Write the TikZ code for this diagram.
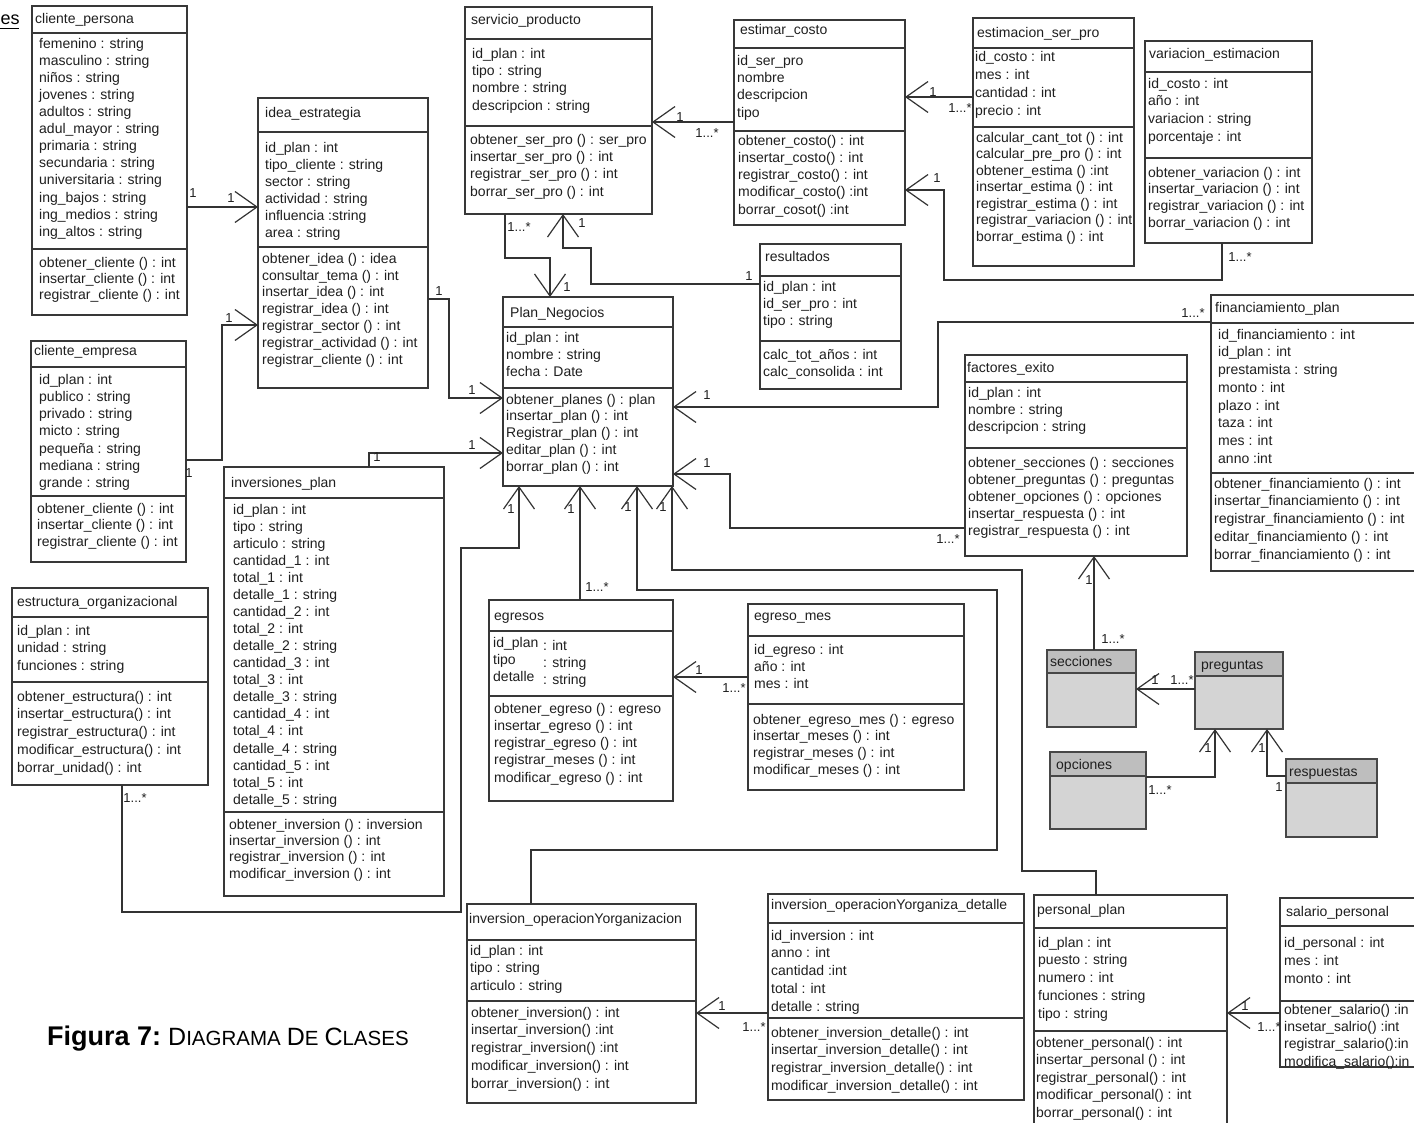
\documentclass[tikz,border=0pt]{standalone}
\usepackage{fontspec}
\setmainfont{Liberation Sans}
\usepackage{graphicx}
\usetikzlibrary{arrows.meta,fit}
\definecolor{gtitle}{RGB}{190,190,190}
\definecolor{gbody}{RGB}{212,212,212}
\tikzset{
  sepline/.style={draw=black!78, line width=1.2pt},
  boxs/.style={draw=black!78, line width=1.2pt, inner sep=0pt, outer sep=0pt, fill=white},
  gboxs/.style={draw=black!72, line width=1.6pt, inner sep=0pt, outer sep=0pt},
  txt/.style={inner sep=0pt, anchor=north west, align=left, text=black!88, font=\fontsize{14pt}{#1}\selectfont},
  txt/.default=17.2,
  lbl/.style={inner sep=0pt, text=black!88, font=\fontsize{13pt}{14pt}\selectfont},
  conn/.style={draw=black!80, line width=1.2pt},
  arr/.style={conn, -{Straight Barb[length=22pt,width=31pt,line width=1.2pt]}},
}
% name x1 y1 x2 y2 sep1 sep2
\newcommand\umlbox[7]{%
  \node[boxs, fit={(#2,#3) (#4,#5)}] (#1) {};
  \draw[sepline] (#2,#6) -- (#4,#6);
  \draw[sepline] (#2,#7) -- (#4,#7);
}
% name x1 y1 x2 y2 sep
\newcommand\grbox[6]{%
  \fill[gbody] (#2,#3) rectangle (#4,#5);
  \fill[gtitle] (#2,#3) rectangle (#4,#6);
  \node[gboxs, fit={(#2,#3) (#4,#5)}] (#1) {};
  \draw[gboxs] (#2,#6) -- (#4,#6);
}
% name x baseline spacing text
\newcommand\utext[5]{%
  \node[txt=#4] (#1) at (#2,#3-11) {\rule{0pt}{11pt}#5};
}
\newcommand\capbig[1]{{\fontsize{25pt}{25pt}\selectfont #1}}
\newcommand\capsmall[1]{{\fontsize{20.5pt}{20.5pt}\selectfont #1}}
\begin{document}
\begin{tikzpicture}[x=1pt,y=-1pt]
\useasboundingbox (0,0) rectangle (1414,1123);
\fill[white] (0,0) rectangle (1414,1123);
\clip (0,0) rectangle (1414,1123);

% ---------- classes ----------
\umlbox{cp}{32}{6}{187}{315}{33}{249}
\utext{cpT}{35}{23}{17}{cliente\_persona}
\utext{cpA}{39}{48}{17.1}{femenino : string\\masculino : string\\niños : string\\jovenes : string\\adultos : string\\adul\_mayor : string\\primaria : string\\secundaria : string\\universitaria : string\\ing\_bajos : string\\ing\_medios : string\\ing\_altos : string}
\utext{cpM}{39}{267}{16}{obtener\_cliente () : int\\insertar\_cliente () : int\\registrar\_cliente () : int}

\umlbox{idea}{258}{98}{428}{388}{132}{247}
\utext{ideaT}{265}{117}{17}{idea\_estrategia}
\utext{ideaA}{265}{152}{17}{id\_plan : int\\tipo\_cliente : string\\sector : string\\actividad : string\\influencia :string\\area : string}
\utext{ideaM}{262}{263}{16.8}{obtener\_idea () : idea\\consultar\_tema () : int\\insertar\_idea () : int\\registrar\_idea () : int\\registrar\_sector () : int\\registrar\_actividad () : int\\registrar\_cliente () : int}

\umlbox{ce}{31}{341}{186}{562}{367}{496}
\utext{ceT}{34}{355}{17}{cliente\_empresa}
\utext{ceA}{39}{384}{17.2}{id\_plan : int\\publico : string\\privado : string\\micto : string\\pequeña : string\\mediana : string\\grande : string}
\utext{ceM}{37}{513}{16.5}{obtener\_cliente () : int\\insertar\_cliente () : int\\registrar\_cliente () : int}

\umlbox{eo}{12}{588}{208}{785}{617}{682}
\utext{eoT}{17}{606}{17}{estructura\_organizacional}
\utext{eoA}{17}{635}{17.5}{id\_plan : int\\unidad : string\\funciones : string}
\utext{eoM}{17}{701}{17.7}{obtener\_estructura() : int\\insertar\_estructura() : int\\registrar\_estructura() : int\\modificar\_estructura() : int\\borrar\_unidad() : int}

\umlbox{ip}{224}{467}{444}{896}{498}{812}
\utext{ipT}{231}{487}{17}{inversiones\_plan}
\utext{ipA}{233}{514}{17.06}{id\_plan : int\\tipo : string\\articulo : string\\cantidad\_1 : int\\total\_1 : int\\detalle\_1 : string\\cantidad\_2 : int\\total\_2 : int\\detalle\_2 : string\\cantidad\_3 : int\\total\_3 : int\\detalle\_3 : string\\cantidad\_4 : int\\total\_4 : int\\detalle\_4 : string\\cantidad\_5 : int\\total\_5 : int\\detalle\_5 : string}
\utext{ipM}{229}{829}{16.3}{obtener\_inversion () : inversion\\insertar\_inversion () : int\\registrar\_inversion () : int\\modificar\_inversion () : int}

\umlbox{sp}{465}{7}{652}{214}{39}{126}
\utext{spT}{471}{24}{17}{servicio\_producto}
\utext{spA}{472}{58}{17.3}{id\_plan : int\\tipo : string\\nombre : string\\descripcion : string}
\utext{spM}{470}{144}{17.3}{obtener\_ser\_pro () : ser\_pro\\insertar\_ser\_pro () : int\\registrar\_ser\_pro () : int\\borrar\_ser\_pro () : int}

\umlbox{ec}{734}{20}{905}{225}{48}{131}
\utext{ecT}{740}{34}{17}{estimar\_costo}
\utext{ecA}{737}{65}{17.3}{id\_ser\_pro\\nombre\\descripcion\\tipo}
\utext{ecM}{738}{145}{17.25}{obtener\_costo() : int\\insertar\_costo() : int\\registrar\_costo() : int\\modificar\_costo() :int\\borrar\_cosot() :int}

\umlbox{es}{973}{18}{1134}{266}{48}{127}
\utext{esT}{977}{37}{17}{estimacion\_ser\_pro}
\utext{esA}{975}{61}{18}{id\_costo : int\\mes : int\\cantidad : int\\precio : int}
\utext{esM}{976}{142}{16.5}{calcular\_cant\_tot () : int\\calcular\_pre\_pro () : int\\obtener\_estima () :int\\insertar\_estima () : int\\registrar\_estima () : int\\registrar\_variacion () : int\\borrar\_estima () : int}

\umlbox{ve}{1145}{41}{1312}{243}{72}{158}
\utext{veT}{1149}{58}{17}{variacion\_estimacion}
\utext{veA}{1148}{88}{17.7}{id\_costo : int\\año : int\\variacion : string\\porcentaje : int}
\utext{veM}{1148}{177}{16.7}{obtener\_variacion () : int\\insertar\_variacion () : int\\registrar\_variacion () : int\\borrar\_variacion () : int}

\umlbox{re}{760}{244}{901}{389}{276}{341}
\utext{reT}{765}{261}{17}{resultados}
\utext{reA}{763}{291}{17}{id\_plan : int\\id\_ser\_pro : int\\tipo : string}
\utext{reM}{763}{359}{17}{calc\_tot\_años : int\\calc\_consolida : int}

\umlbox{pn}{503}{297}{673}{486}{327}{388}
\utext{pnT}{510}{317}{17}{Plan\_Negocios}
\utext{pnA}{506}{342}{17}{id\_plan : int\\nombre : string\\fecha : Date}
\utext{pnM}{506}{404}{16.75}{obtener\_planes () : plan\\insertar\_plan () : int\\Registrar\_plan () : int\\editar\_plan () : int\\borrar\_plan () : int}

\umlbox{fp}{1211}{295}{1430}{571}{323}{473}
\utext{fpT}{1215}{312}{17}{financiamiento\_plan}
\utext{fpA}{1218}{339}{17.7}{id\_financiamiento : int\\id\_plan : int\\prestamista : string\\monto : int\\plazo : int\\taza : int\\mes : int\\anno :int}
\utext{fpM}{1214}{488}{17.75}{obtener\_financiamiento () : int\\insertar\_financiamiento () : int\\registrar\_financiamiento () : int\\editar\_financiamiento () : int\\borrar\_financiamiento () : int}

\umlbox{fe}{965}{355}{1187}{556}{382}{448}
\utext{feT}{967}{372}{17}{factores\_exito}
\utext{feA}{968}{397}{17}{id\_plan : int\\nombre : string\\descripcion : string}
\utext{feM}{968}{467}{17}{obtener\_secciones () : secciones\\obtener\_preguntas () : preguntas\\obtener\_opciones () : opciones\\insertar\_respuesta () : int\\registrar\_respuesta () : int}

\umlbox{eg}{489}{600}{673}{801}{631}{696}
\utext{egT}{494}{620}{17}{egresos}
\utext{egA}{493}{647}{17}{id\_plan\\tipo\\detalle}
\utext{egB}{543}{650}{17}{: int\\: string\\: string}
\utext{egM}{494}{713}{17.25}{obtener\_egreso () : egreso\\insertar\_egreso () : int\\registrar\_egreso () : int\\registrar\_meses () : int\\modificar\_egreso () : int}

\umlbox{em}{748}{604}{964}{790}{636}{704}
\utext{emT}{754}{620}{17}{egreso\_mes}
\utext{emA}{754}{654}{17}{id\_egreso : int\\año : int\\mes : int}
\utext{emM}{753}{724}{16.7}{obtener\_egreso\_mes () : egreso\\insertar\_meses () : int\\registrar\_meses () : int\\modificar\_meses () : int}

\umlbox{io}{467}{904}{696}{1103}{940}{1001}
\utext{ioT}{469}{923}{17}{inversion\_operacionYorganizacion}
\utext{ioA}{470}{955}{17.5}{id\_plan : int\\tipo : string\\articulo : string}
\utext{ioM}{471}{1017}{17.75}{obtener\_inversion() : int\\insertar\_inversion() :int\\registrar\_inversion() :int\\modificar\_inversion() : int\\borrar\_inversion() : int}

\umlbox{idt}{768}{894}{1024}{1100}{923}{1018}
\utext{idtT}{771}{909}{17}{inversion\_operacionYorganiza\_detalle}
\utext{idtA}{771}{940}{17.75}{id\_inversion : int\\anno : int\\cantidad :int\\total : int\\detalle : string}
\utext{idtM}{771}{1037}{17.7}{obtener\_inversion\_detalle() : int\\insertar\_inversion\_detalle() : int\\registrar\_inversion\_detalle() : int\\modificar\_inversion\_detalle() : int}

\umlbox{pp}{1034}{895}{1227}{1135}{928}{1031}
\utext{ppT}{1037}{914}{17}{personal\_plan}
\utext{ppA}{1038}{947}{17.75}{id\_plan : int\\puesto : string\\numero : int\\funciones : string\\tipo : string}
\utext{ppM}{1036}{1047}{17.5}{obtener\_personal() : int\\insertar\_personal () : int\\registrar\_personal() : int\\modificar\_personal() : int\\borrar\_personal() : int}

\umlbox{sal}{1280}{898}{1430}{1067}{926}{1001}
\utext{salT}{1286}{916}{17}{salario\_personal}
\utext{salA}{1284}{947}{18}{id\_personal : int\\mes : int\\monto : int}
\utext{salM}{1284}{1014}{17.3}{obtener\_salario() :in\\insetar\_salrio() :int\\registrar\_salario():in\\modifica\_salario():in}

% gray classes
\grbox{se}{1047}{650}{1136}{727}{673}
\utext{seT}{1050}{666}{17}{secciones}
\grbox{pr}{1195}{652}{1283}{729}{676}
\utext{prT}{1201}{669}{17}{preguntas}
\grbox{op}{1050}{752}{1146}{829}{776}
\utext{opT}{1056}{769}{17}{opciones}
\grbox{rs}{1286}{759}{1377}{837}{783}
\utext{rsT}{1289}{776}{17}{respuestas}

% ---------- connectors ----------
\draw[arr] (cp.east |- 0,207) -- (idea.west |- 0,207);
\draw[arr] (ce.east |- 0,460) -| (222,325) -- (idea.west |- 0,325);
\draw[arr] (idea.east |- 0,299) -| (449,398) -- (pn.west |- 0,398);
\draw[arr] (ip.north -| 369,0) |- (pn.west |- 0,453);
\draw[arr] (sp.south -| 505,0) |- (550,258) -- (pn.north -| 550,0);
\draw[arr] (re.west |- 0,284) -| (591,248) -| (sp.south -| 563,0);
\draw[arr] (ec.west |- 0,122) -- (sp.east |- 0,122);
\draw[arr] (es.west |- 0,97) -- (ec.east |- 0,97);
\draw[arr] (ve.south -| 1222,0) |- (944,280) |- (ec.east |- 0,190);
\draw[arr] (fp.west |- 0,322) -| (938,407) -- (pn.east |- 0,407);
\draw[arr] (fe.west |- 0,528) -| (730,474) -- (pn.east |- 0,474);
\draw[arr] (eo.south -| 122,0) |- (461,912) |- (519,548) -- (pn.south -| 519,0);
\draw[arr] (eg.north -| 580,0) -- (pn.south -| 580,0);
\draw[arr] (io.north -| 531,0) |- (997,850) |- (637,590) -- (pn.south -| 637,0);
\draw[arr] (pp.north -| 1096,0) |- (1022,871) |- (672,570) -- (pn.south -| 672,0);
\draw[arr] (em.west |- 0,677) -- (eg.east |- 0,677);
\draw[arr] (idt.west |- 0,1013) -- (io.east |- 0,1013);
\draw[arr] (sal.west |- 0,1013) -- (pp.east |- 0,1013);
\draw[arr] (se.north -| 1094,0) -- (fe.south -| 1094,0);
\draw[arr] (pr.west |- 0,689) -- (se.east |- 0,689);
\draw[arr] (op.east |- 0,777) -| (pr.south -| 1215,0);
\draw[arr] (rs.west |- 0,776) -| (pr.south -| 1267,0);

% ---------- multiplicities ----------
\node[lbl] (l1a) at (193,193) {1};
\node[lbl] (l1b) at (231,198) {1};
\node[lbl] (l2a) at (189,473) {1};
\node[lbl] (l2b) at (229,318) {1};
\node[lbl] (l3a) at (439,291) {1};
\node[lbl] (l3b) at (472,390) {1};
\node[lbl] (l4a) at (377,457) {1};
\node[lbl] (l4b) at (472,445) {1};
\node[lbl] (l5a) at (519,227) {1...*};
\node[lbl] (l5b) at (567,287) {1};
\node[lbl] (l6a) at (749,276) {1};
\node[lbl] (l6b) at (582,223) {1};
\node[lbl] (l7a) at (680,117) {1};
\node[lbl] (l7b) at (707,133) {1...*};
\node[lbl] (l8a) at (933,92) {1};
\node[lbl] (l8b) at (960,108) {1...*};
\node[lbl] (l9a) at (937,178) {1};
\node[lbl] (l9b) at (1240,257) {1...*};
\node[lbl] (l10a) at (1193,313) {1...*};
\node[lbl] (l10b) at (707,395) {1};
\node[lbl] (l11a) at (948,539) {1...*};
\node[lbl] (l11b) at (707,463) {1};
\node[lbl] (l12a) at (135,798) {1...*};
\node[lbl] (l12b) at (511,509) {1};
\node[lbl] (l13a) at (597,587) {1...*};
\node[lbl] (l13b) at (571,509) {1};
\node[lbl] (l14) at (628,507) {1};
\node[lbl] (l15) at (663,507) {1};
\node[lbl] (l16a) at (699,670) {1};
\node[lbl] (l16b) at (734,688) {1...*};
\node[lbl] (l17a) at (722,1006) {1};
\node[lbl] (l17b) at (754,1027) {1...*};
\node[lbl] (l18a) at (1245,1006) {1};
\node[lbl] (l18b) at (1269,1027) {1...*};
\node[lbl] (l19a) at (1113,639) {1...*};
\node[lbl] (l19b) at (1089,580) {1};
\node[lbl] (l20a) at (1155,680) {1};
\node[lbl] (l20b) at (1182,680) {1...*};
\node[lbl] (l21a) at (1160,790) {1...*};
\node[lbl] (l21b) at (1208,748) {1};
\node[lbl] (l22a) at (1279,787) {1};
\node[lbl] (l22b) at (1262,748) {1};

% ---------- heading fragment and caption ----------
\node[anchor=base west, inner sep=0pt, font=\fontsize{18pt}{18pt}\selectfont] (hd) at (0.5,24.5) {es};
\draw[line width=1.5pt] (0,28.3) -- (19,28.3);
\node[anchor=base west, inner sep=0pt] (cap) at (47,1045) {{\fontsize{27pt}{27pt}\selectfont\bfseries Figura 7:}\hspace{7pt}\capbig{D}\capsmall{IAGRAMA}\hspace{6pt}\capbig{D}\capsmall{E}\hspace{6pt}\capbig{C}\capsmall{LASES}};
\end{tikzpicture}
\end{document}
